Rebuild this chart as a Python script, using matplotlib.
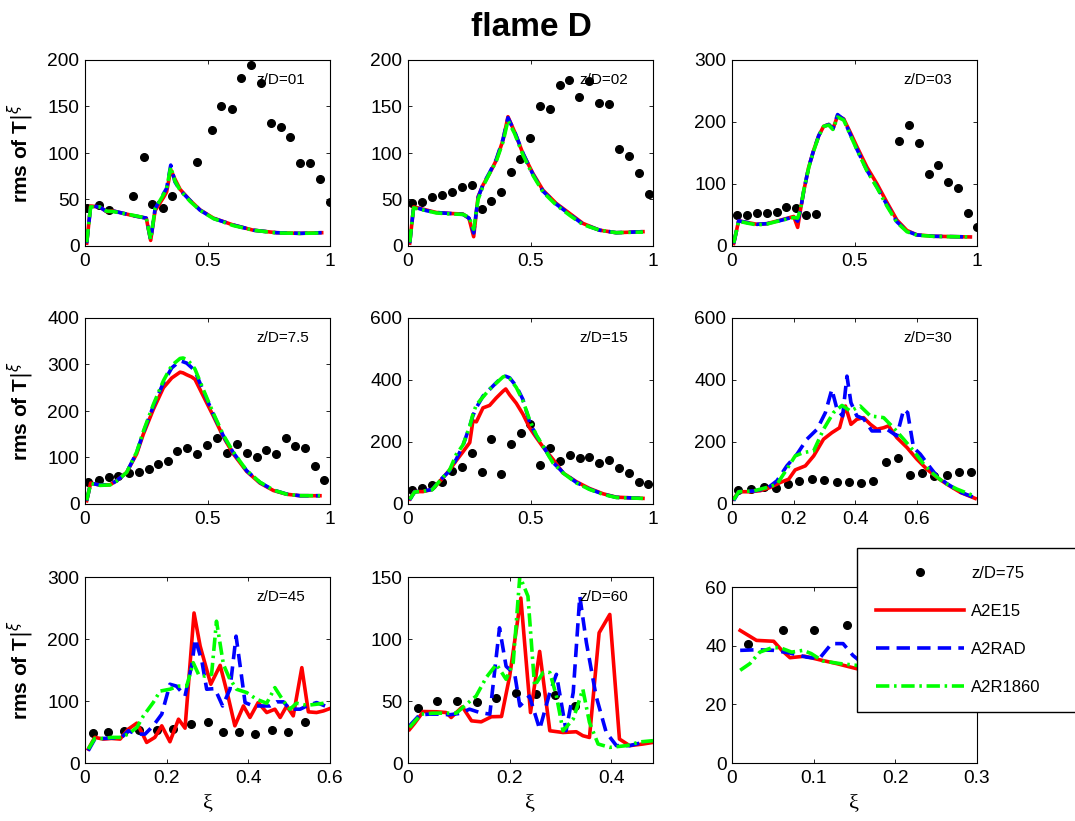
import matplotlib
matplotlib.use("Agg")
import matplotlib.pyplot as plt
from matplotlib.patches import Rectangle
from matplotlib.ticker import FuncFormatter

plt.rcParams['font.family'] = ['Liberation Sans', 'DejaVu Sans']

# ---- z/D = 1 ----
x1_exp = [0.01, 0.057, 0.098, 0.197, 0.241, 0.275, 0.32, 0.356, 0.458, 0.517, 0.554, 0.599, 0.637, 0.678,
          0.718, 0.758, 0.799, 0.838, 0.878, 0.918, 0.959, 1.0]
y1_exp = [40.5, 44, 38.7, 54, 96, 45, 40.5, 54, 90, 124.6, 150, 147, 181, 195, 175, 132, 128, 117, 89, 89, 72, 47.6]
x1_sim = [0.007, 0.023, 0.06, 0.088, 0.116, 0.197, 0.25, 0.268, 0.286, 0.32, 0.333, 0.35, 0.367, 0.388, 0.429,
          0.469, 0.524, 0.605, 0.687, 0.782, 0.878, 0.966]
y1_e15 = [3, 43, 42, 37, 37.6, 32.6, 30, 6, 38, 52, 58, 82, 72, 61, 49, 39, 30, 22.6, 17, 14.3, 13.6, 14.3]
y1_rad = [3, 43, 42, 37, 37.6, 32.6, 30, 6.4, 40, 56, 62, 87, 69, 60, 49, 38.7, 29.7, 22.6, 17, 14.3, 13.6, 14.3]
y1_r18 = [4, 42, 42, 37.5, 37, 33, 30, 7, 40, 55, 62, 85, 70, 60, 48, 38.5, 29.5, 22, 17, 14, 13.6, 14]

# ---- z/D = 2 ----
x2_exp = [0.016, 0.058, 0.099, 0.14, 0.181, 0.222, 0.261, 0.302, 0.34, 0.381, 0.419, 0.459, 0.499, 0.54, 0.581,
          0.619, 0.657, 0.698, 0.739, 0.78, 0.82, 0.861, 0.902, 0.941, 0.982]
y2_exp = [45.8, 47.6, 53, 54.8, 57.6, 63, 66, 39.7, 48.7, 57.6, 79.8, 94, 116, 150.7, 146.8, 173.6, 178, 160,
          177.6, 154, 152.5, 104, 96.7, 78, 55.8]
x2_sim = [0.007, 0.023, 0.075, 0.116, 0.17, 0.224, 0.249, 0.268, 0.286, 0.306, 0.333, 0.36, 0.388, 0.408, 0.435,
          0.469, 0.51, 0.551, 0.605, 0.66, 0.714, 0.782, 0.85, 0.959]
y2_e15 = [3, 42, 38.7, 36, 35, 34.4, 29.7, 10, 53, 65.5, 78, 92, 114, 139, 122.8, 99.5, 78, 60, 45.8, 35, 24.3,
          17, 14.3, 15.4]
y2_rad = [3, 42, 38, 36, 35, 34, 30, 14, 52, 66, 79, 93, 115, 138, 123, 100, 77, 59, 45, 34, 23.5, 17, 14.3, 15.4]
y2_r18 = [4, 41, 38, 35.5, 34.5, 34, 31, 18, 50, 64, 78, 91, 112, 135, 121, 98, 76, 58, 44, 33, 23, 17, 14.3, 15]

# ---- z/D = 3 ----
x3_exp = [0.02, 0.061, 0.102, 0.143, 0.184, 0.222, 0.261, 0.303, 0.343, 0.682, 0.721, 0.762, 0.803, 0.841,
          0.883, 0.922, 0.962, 1.0]
y3_exp = [49.7, 49.7, 54, 53, 55, 63, 60.5, 49.7, 52.4, 170, 194.6, 166.5, 116, 131, 103.8, 93, 54, 30.8]
x3_sim = [0.007, 0.027, 0.061, 0.102, 0.143, 0.197, 0.252, 0.268, 0.279, 0.293, 0.313, 0.333, 0.354, 0.374,
          0.395, 0.412, 0.431, 0.456, 0.483, 0.51, 0.551, 0.592, 0.633, 0.673, 0.714, 0.755, 0.823, 0.973]
y3_e15 = [4, 40.5, 38, 35, 36, 41.6, 47.6, 30, 57, 89, 127, 154, 178, 193, 196, 189, 210, 205, 183, 160, 127, 100,
          70, 42, 25, 18, 15.7, 14.6]
y3_rad = [4, 40.5, 38, 35, 36, 41, 47, 40, 57, 89, 127, 154, 178, 193, 196, 189, 212, 204, 180, 156, 122, 95, 66,
          39, 24, 17.8, 15.7, 14.6]
y3_r18 = [5, 40, 37, 34, 35.5, 41, 46, 45, 58, 90, 126, 153, 177, 193, 195, 188, 208, 203, 179, 155, 121, 94, 64,
          38, 23, 17.5, 15.5, 14.6]

# ---- z/D = 7.5 ----
x4_exp = [0.014, 0.057, 0.098, 0.136, 0.181, 0.22, 0.261, 0.299, 0.34, 0.377, 0.418, 0.458, 0.499, 0.537, 0.578,
          0.619, 0.66, 0.701, 0.739, 0.78, 0.819, 0.857, 0.898, 0.937, 0.977]
y4_exp = [47.8, 51.4, 57, 60.7, 66.4, 67.9, 75, 87, 92.8, 114, 120, 108.5, 127, 141, 110.7, 130, 110.7, 101, 116,
          108.5, 143, 125, 120, 82, 51.4]
x4_sim = [0.007, 0.023, 0.061, 0.102, 0.129, 0.17, 0.211, 0.238, 0.279, 0.32, 0.354, 0.388, 0.4, 0.415, 0.436,
          0.449, 0.483, 0.524, 0.565, 0.605, 0.66, 0.714, 0.769, 0.823, 0.878, 0.959]
y4_e15 = [7, 45, 40.7, 41.4, 50, 67.9, 108, 150, 203.5, 250, 271, 283.5, 282, 278, 273, 268, 232, 189, 144, 108,
          70, 45, 29, 21, 17.8, 17.8]
y4_rad = [7, 45, 40.7, 41.4, 50, 67.9, 110.7, 153.5, 210.6, 260.6, 292.7, 308, 306, 303, 293, 285.6, 242.8, 192.8,
          146, 110.7, 71.4, 46.4, 30, 21.4, 17.8, 17.8]
y4_r18 = [8, 44, 40, 41, 49, 68, 112, 156, 214, 265, 298, 313, 314, 311, 300, 290, 246, 195, 148, 112, 72, 47, 30,
          21, 18, 17.8]

# ---- z/D = 15 ----
x5_exp = [0.016, 0.058, 0.099, 0.14, 0.181, 0.222, 0.261, 0.302, 0.34, 0.381, 0.419, 0.46, 0.499, 0.54, 0.581,
          0.622, 0.66, 0.701, 0.739, 0.78, 0.82, 0.861, 0.902, 0.943, 0.981]
y5_exp = [45, 52.5, 61, 71.8, 106, 120, 164, 101.8, 209, 96.4, 193, 228, 259, 126, 182, 139, 157.5, 146.8, 152,
          131.8, 141, 114.6, 99.6, 71.8, 63]
x5_sim = [0.007, 0.027, 0.061, 0.099, 0.129, 0.17, 0.197, 0.224, 0.252, 0.265, 0.279, 0.306, 0.333, 0.36, 0.388,
          0.399, 0.415, 0.442, 0.469, 0.497, 0.524, 0.551, 0.592, 0.633, 0.687, 0.741, 0.796, 0.85, 0.959]
y5_e15 = [16, 40, 40, 47, 72, 110, 140, 168, 198, 268, 265, 310, 318, 342, 364, 371, 352, 325, 290, 245, 214, 184,
          144, 100, 72, 50, 33, 22, 18.2]
y5_rad = [13, 39.6, 41.8, 47, 75, 107, 144.6, 187.5, 251.8, 285, 310.7, 348, 369.6, 391, 412.5, 412, 407, 380,
          337.5, 262.5, 219.6, 187.5, 134, 101.8, 69.6, 48, 32, 21.4, 18.2]
y5_r18 = [15, 39, 41, 46, 74, 110, 160, 190, 250, 290, 320, 345, 370, 390, 410, 413, 405, 376, 333, 270, 222, 187,
          132, 100, 68, 47, 31, 21, 18]

# ---- z/D = 30 ----
x6_exp = [0.019, 0.062, 0.103, 0.143, 0.181, 0.219, 0.259, 0.3, 0.341, 0.381, 0.419, 0.457, 0.499, 0.538, 0.578,
          0.618, 0.656, 0.697, 0.737, 0.775]
y6_exp = [45, 48, 53.6, 50, 64, 75, 80, 77, 71.8, 69.6, 67.5, 75, 136, 146.8, 93, 98.6, 91, 94, 101.8, 104]
x6_e15 = [0.005, 0.022, 0.059, 0.092, 0.124, 0.157, 0.184, 0.205, 0.238, 0.265, 0.297, 0.324, 0.349, 0.368, 0.386,
          0.405, 0.427, 0.449, 0.47, 0.492, 0.508, 0.535, 0.568, 0.6, 0.632, 0.665, 0.697, 0.741, 0.789]
y6_e15 = [16, 39.6, 39.6, 43, 53.6, 69.6, 80, 110, 123, 155, 209, 230, 246, 316, 257, 273, 278.6, 257, 241, 246,
          252, 214, 182, 144.6, 112.5, 85.7, 64, 37.5, 18]
x6_rad = [0.005, 0.022, 0.07, 0.114, 0.146, 0.178, 0.211, 0.243, 0.276, 0.303, 0.324, 0.341, 0.359, 0.373, 0.386,
          0.405, 0.427, 0.454, 0.481, 0.503, 0.535, 0.557, 0.57, 0.589, 0.611, 0.643, 0.665, 0.697, 0.741, 0.789]
y6_rad = [10.7, 39.6, 41.8, 50, 75, 123, 160.7, 209, 241, 294.6, 369.6, 305, 284, 412.5, 326.8, 284, 275, 235.7,
          235.7, 241, 219.6, 305, 294.6, 182, 160.7, 118, 90, 66, 38, 20]
x6_r18 = [0.005, 0.022, 0.07, 0.114, 0.146, 0.178, 0.205, 0.232, 0.265, 0.297, 0.329, 0.357, 0.384, 0.416, 0.449,
          0.492, 0.524, 0.557, 0.589, 0.622, 0.654, 0.687, 0.73, 0.784]
y6_r18 = [13, 39.6, 42, 53.6, 64, 112.5, 155, 166, 171.4, 241, 294.6, 318, 300, 316, 284, 278.6, 246, 209, 171.4,
          128.6, 96.4, 69.6, 48, 26.8]

# ---- z/D = 45 ----
x7_exp = [0.019, 0.057, 0.096, 0.133, 0.177, 0.216, 0.259, 0.3, 0.339, 0.377, 0.416, 0.457, 0.498, 0.539]
y7_exp = [47.7, 49.3, 50.9, 53.6, 53.6, 54.6, 62.7, 65.4, 49.3, 50.4, 46.6, 53, 49.3, 65.4]
x7_e15 = [0.008, 0.024, 0.045, 0.065, 0.086, 0.106, 0.127, 0.139, 0.151, 0.171, 0.188, 0.208, 0.229, 0.245, 0.267,
          0.282, 0.308, 0.331, 0.351, 0.367, 0.388, 0.404, 0.424, 0.445, 0.465, 0.478, 0.494, 0.51, 0.531, 0.547,
          0.567, 0.584, 0.6]
y7_e15 = [22.5, 41.3, 38.6, 39.6, 38.6, 54.6, 64.3, 49.3, 33.2, 41.3, 60, 34.3, 70.7, 56.2, 242, 188.6, 127, 157.5,
          105.5, 60, 92, 73.4, 97.5, 81.4, 86.8, 73.4, 92, 76, 153.8, 82.5, 81.4, 84, 87.9]
x7_rad = [0.008, 0.024, 0.045, 0.069, 0.09, 0.106, 0.127, 0.147, 0.167, 0.188, 0.208, 0.224, 0.245, 0.262, 0.27,
          0.286, 0.298, 0.318, 0.337, 0.355, 0.37, 0.38, 0.392, 0.412, 0.429, 0.453, 0.469, 0.486, 0.502, 0.527,
          0.543, 0.567, 0.588]
y7_rad = [19.8, 38.6, 39.6, 40.2, 41.3, 52, 46.6, 46.6, 60, 78.8, 127, 124, 108, 160, 200, 165, 119, 120, 92, 119,
          204.6, 156.4, 97.5, 92, 92, 92, 98.6, 98.6, 86.8, 86.8, 92, 97.5, 92]
x7_r18 = [0.008, 0.024, 0.045, 0.065, 0.086, 0.106, 0.127, 0.143, 0.167, 0.184, 0.208, 0.229, 0.249, 0.265, 0.278,
          0.294, 0.31, 0.322, 0.339, 0.353, 0.371, 0.396, 0.42, 0.445, 0.465, 0.486, 0.502, 0.518, 0.543, 0.567,
          0.596]
y7_r18 = [22.5, 39.6, 39.6, 41.3, 41.3, 46.6, 57.3, 76, 97.5, 116, 119, 124, 124, 161.8, 143, 140, 143, 228.7, 159,
          137.7, 119, 113.6, 102.9, 96.4, 121.6, 100, 86.8, 96.4, 93, 94.8, 97.5]

# ---- z/D = 60 ----
x8_exp = [0.02, 0.057, 0.096, 0.136, 0.174, 0.213, 0.251, 0.29, 0.328]
y8_exp = [44.2, 49.6, 50, 49.3, 52.3, 56.3, 55.5, 55, 45.6]
x8_e15 = [0.003, 0.013, 0.03, 0.056, 0.075, 0.085, 0.095, 0.107, 0.125, 0.144, 0.164, 0.184, 0.2, 0.222, 0.241,
          0.259, 0.279, 0.305, 0.331, 0.344, 0.357, 0.376, 0.397, 0.416, 0.436, 0.462, 0.482]
y8_e15 = [27, 32, 41.5, 41.3, 40.7, 36.7, 40.7, 45.3, 34, 33.2, 37.3, 37.5, 70, 133, 40.7, 90, 26, 24.6, 25.2, 22,
          20.6, 105, 119.8, 19.3, 14, 15.3, 16.6]
x8_rad = [0.003, 0.023, 0.043, 0.062, 0.082, 0.102, 0.121, 0.141, 0.161, 0.18, 0.193, 0.21, 0.22, 0.239, 0.259,
          0.279, 0.292, 0.311, 0.325, 0.338, 0.351, 0.37, 0.39, 0.41, 0.436, 0.462]
y8_rad = [30, 38.9, 39.4, 39.4, 38.9, 40, 43.4, 40.7, 39.4, 109, 78, 71.5, 46, 54, 27.3, 56.8, 71.5, 26, 56.8,
          134.5, 97, 54, 24.6, 14, 14, 16.6]
x8_r18 = [0.003, 0.026, 0.049, 0.075, 0.095, 0.115, 0.134, 0.154, 0.174, 0.193, 0.207, 0.22, 0.236, 0.249, 0.266,
          0.279, 0.292, 0.305, 0.325, 0.344, 0.357, 0.374, 0.397, 0.43, 0.456, 0.482]
y8_r18 = [28.7, 39.4, 40.2, 40.2, 40.2, 47.4, 54, 69, 79.6, 67.5, 81, 150.6, 134.5, 62.2, 73, 73, 54, 26, 35.4,
          59.5, 32.7, 15.3, 12.6, 14, 17, 18]

# ---- z/D = 75 ----
x9_exp = [0.02, 0.062, 0.101, 0.141]
y9_exp = [40.4, 45.4, 45.4, 46.9]
x9_e15 = [0.01, 0.03, 0.051, 0.061, 0.071, 0.089, 0.107, 0.128, 0.152, 0.18]
y9_e15 = [45.2, 41.8, 41.5, 38.4, 35.9, 36.4, 35.2, 33.9, 32.2, 30.5]
x9_rad = [0.01, 0.03, 0.051, 0.071, 0.091, 0.107, 0.122, 0.136, 0.148, 0.16, 0.18]
y9_rad = [38.4, 38.6, 38.4, 37.5, 36.1, 35.6, 40.7, 40.7, 36.7, 34, 33]
x9_r18 = [0.01, 0.022, 0.034, 0.049, 0.059, 0.073, 0.087, 0.097, 0.111, 0.132, 0.152, 0.18]
y9_r18 = [31.6, 33.9, 37.8, 39.3, 39.3, 37.8, 38.4, 37.3, 34.8, 33.9, 33.3, 32]

W, H = 1075, 821
fig = plt.figure(figsize=(W / 100, H / 100), dpi=100)

RAD_LS = (0, (3.7, 2.0))
R18_LS = (0, (3.7, 1.3, 0.7, 1.3))
LW = 2.6
fmt = FuncFormatter(lambda v, p: f'{v:g}')


def panel(left, top, height, xmax, ymax, xstep, ystep, exp, e15, rad, r18, tag=None, tag_y=0.89):
    ax = fig.add_axes([left / W, 1 - (top + height) / H, 245 / W, height / H])
    ax.plot(exp[0], exp[1], 'o', color='k', ms=5.5, ls='none', label='z/D=75')
    ax.plot(e15[0], e15[1], color='red', lw=LW, label='A2E15')
    ax.plot(rad[0], rad[1], color='blue', lw=LW, ls=RAD_LS, label='A2RAD')
    ax.plot(r18[0], r18[1], color='#00ff00', lw=LW, ls=R18_LS, label='A2R1860')
    ax.set_xlim(0, xmax)
    ax.set_ylim(0, ymax)
    xt = [i * xstep for i in range(int(xmax / xstep + 1e-6) + 1)]
    yt = [i * ystep for i in range(int(ymax / ystep + 1e-6) + 1)]
    ax.set_xticks(xt)
    ax.set_yticks(yt)
    ax.xaxis.set_major_formatter(fmt)
    ax.yaxis.set_major_formatter(fmt)
    ax.tick_params(direction='in', top=True, right=True, length=3, width=0.6, labelsize=13.8)
    ax.tick_params(axis='y', pad=4)
    ax.tick_params(axis='x', pad=5)
    for s in ax.spines.values():
        s.set_linewidth(0.8)
    if tag:
        ax.text(0.70, tag_y, tag, transform=ax.transAxes, fontsize=11, va='center', ha='left')
    return ax


cols = [85, 408, 732]
panel(cols[0], 60, 186, 1, 200, 0.5, 50, (x1_exp, y1_exp), (x1_sim, y1_e15), (x1_sim, y1_rad), (x1_sim, y1_r18), 'z/D=01')
panel(cols[1], 60, 186, 1, 200, 0.5, 50, (x2_exp, y2_exp), (x2_sim, y2_e15), (x2_sim, y2_rad), (x2_sim, y2_r18), 'z/D=02')
panel(cols[2], 60, 186, 1, 300, 0.5, 100, (x3_exp, y3_exp), (x3_sim, y3_e15), (x3_sim, y3_rad), (x3_sim, y3_r18), 'z/D=03')
panel(cols[0], 318, 186, 1, 400, 0.5, 100, (x4_exp, y4_exp), (x4_sim, y4_e15), (x4_sim, y4_rad), (x4_sim, y4_r18), 'z/D=7.5')
panel(cols[1], 318, 186, 1, 600, 0.5, 200, (x5_exp, y5_exp), (x5_sim, y5_e15), (x5_sim, y5_rad), (x5_sim, y5_r18), 'z/D=15')
panel(cols[2], 318, 186, 0.795, 600, 0.2, 200, (x6_exp, y6_exp), (x6_e15, y6_e15), (x6_rad, y6_rad), (x6_r18, y6_r18), 'z/D=30')
panel(cols[0], 577, 186, 0.6, 300, 0.2, 100, (x7_exp, y7_exp), (x7_e15, y7_e15), (x7_rad, y7_rad), (x7_r18, y7_r18), 'z/D=45')
panel(cols[1], 577, 186, 0.482, 150, 0.2, 50, (x8_exp, y8_exp), (x8_e15, y8_e15), (x8_rad, y8_rad), (x8_r18, y8_r18), 'z/D=60')
ax9 = panel(cols[2], 587, 176, 0.3, 60, 0.1, 20, (x9_exp, y9_exp), (x9_e15, y9_e15), (x9_rad, y9_rad), (x9_r18, y9_r18))

# title and axis labels
fig.text(531 / W, 1 - 28 / H, 'flame D', fontsize=24, fontweight='bold', ha='center', va='center')
for yc in [153, 411, 670]:
    fig.text(21 / W, 1 - yc / H, r'rms of T$|^{\xi}$', fontsize=15, fontweight='bold',
             rotation=90, ha='center', va='center')
for xc in cols:
    fig.text((xc + 122.5) / W, 1 - 804 / H, 'ξ', fontsize=16, family='Liberation Serif',
             ha='center', va='center')

# legend box running off the right edge
box = Rectangle((857 / W, 1 - 712 / H), 230 / W, 164 / H, transform=fig.transFigure,
                facecolor='white', edgecolor='black', linewidth=1.0, zorder=3, clip_on=False)
fig.add_artist(box)
handles, labels = ax9.get_legend_handles_labels()
leg = fig.legend(handles, labels, loc='center left', bbox_to_anchor=(869 / W, 1 - 630 / H),
                 frameon=False, fontsize=12, handlelength=5.3, handletextpad=0.42,
                 labelspacing=1.38, numpoints=1, borderaxespad=0, borderpad=0.4)
leg.set_zorder(4)

fig.savefig('out.png', dpi=100)
